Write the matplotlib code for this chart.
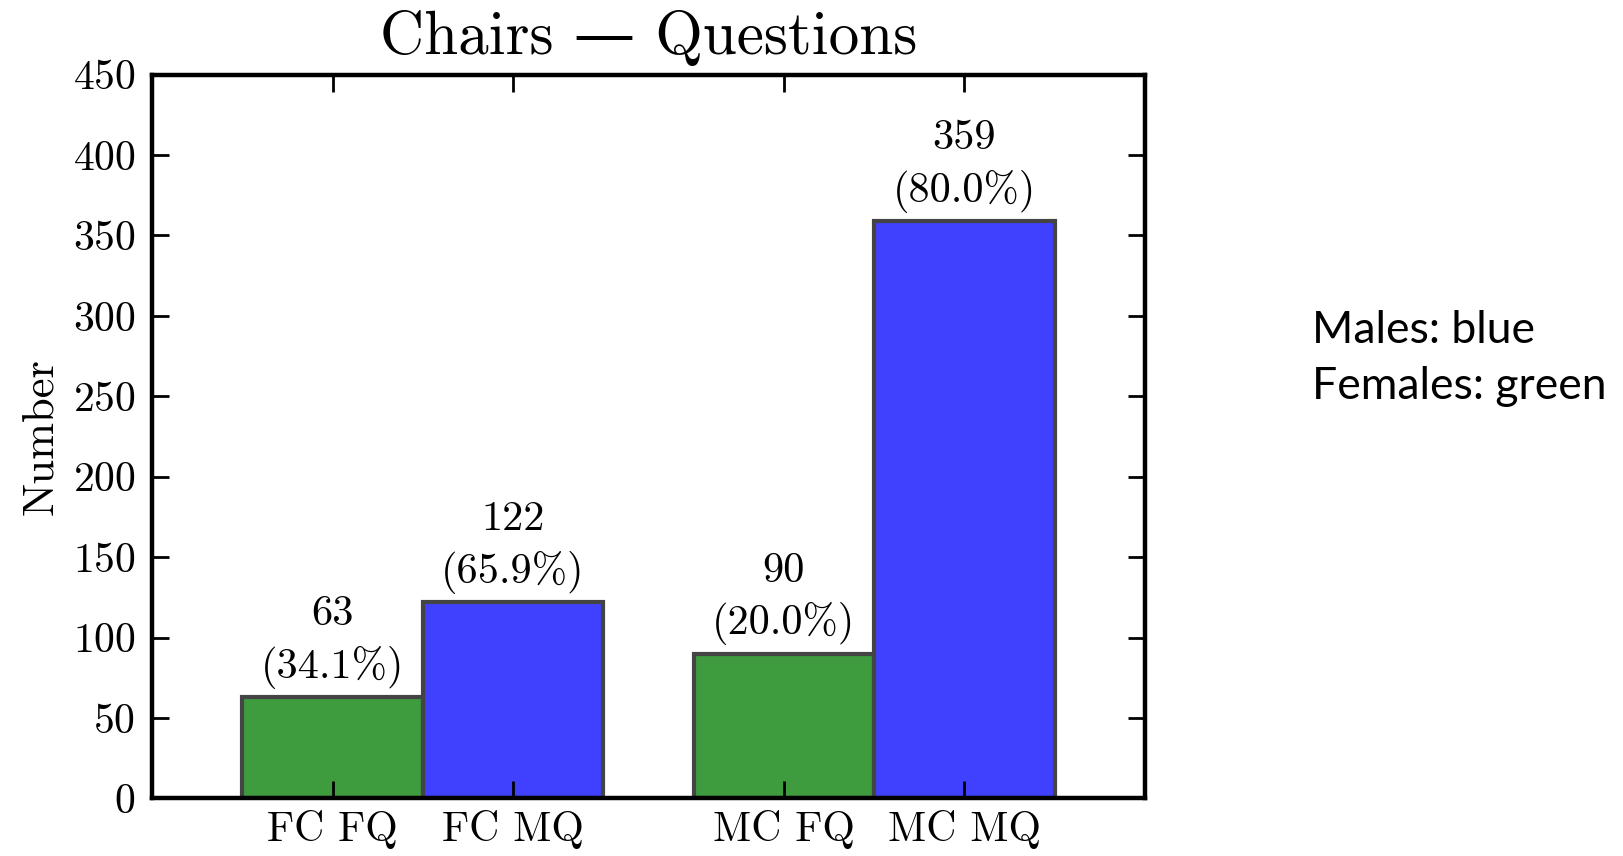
import matplotlib
matplotlib.use("Agg")
import matplotlib.pyplot as plt

# Data
labels = ["FC FQ", "FC MQ", "MC FQ", "MC MQ"]
counts = [63, 122, 90, 359]
shares = [34.1, 65.9, 20.0, 80.0]
positions = [0, 1, 2.5, 3.5]
colors = ["#3e9c3e", "#4040ff", "#3e9c3e", "#4040ff"]

plt.rcParams["font.family"] = ["cmr10", "DejaVu Serif"]
plt.rcParams["mathtext.fontset"] = "cm"
plt.rcParams["axes.formatter.use_mathtext"] = True

fig = plt.figure(figsize=(16.24, 8.56), dpi=100)
ax = fig.add_axes([0.0936, 0.0672, 0.6114, 0.8456])

ax.bar(positions, counts, width=1.0, color=colors,
       edgecolor="#444444", linewidth=3)

for x, n, p in zip(positions, counts, shares):
    ax.annotate(f"{n}\n({p:.1f}%)", (x, n), xytext=(0, 6),
                textcoords="offset points", ha="center", va="bottom",
                fontsize=30.5, linespacing=1.4)

ax.set_xlim(-1, 4.5)
ax.set_ylim(0, 450)
ax.set_yticks(range(0, 451, 50))
ax.set_xticks(positions)
ax.set_xticklabels(labels)
ax.tick_params(direction="in", length=12, width=2, labelsize=30,
               top=True, right=True)
ax.tick_params(axis="y", pad=12)
ax.tick_params(axis="x", pad=8)
for s in ax.spines.values():
    s.set_linewidth(3.2)

ax.set_ylabel("Number", fontsize=32, labelpad=8)
ax.set_title("Chairs \u2014 Questions", fontsize=44, pad=15)

fig.text(0.808, 0.614, "Males: blue", fontsize=32, family="Lato",
         va="center", ha="left")
fig.text(0.808, 0.548, "Females: green", fontsize=32, family="Lato",
         va="center", ha="left")

fig.savefig("out.png", dpi=100)
